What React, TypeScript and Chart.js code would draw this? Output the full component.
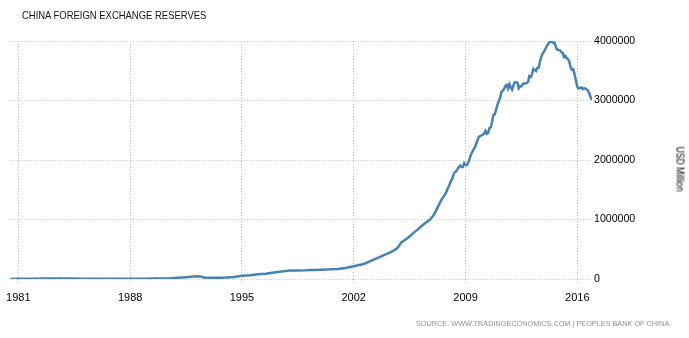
import React, { useEffect, useRef } from "react";
import { Chart, registerables } from "chart.js";

Chart.register(...registerables);

const title = "CHINA FOREIGN EXCHANGE RESERVES";
const sourceText = "SOURCE: WWW.TRADINGECONOMICS.COM | PEOPLES BANK OF CHINA";
const unitLabel = "USD Million";

const tickYears = [1981, 1988, 1995, 2002, 2009, 2016];
const yTicks = [0, 1000000, 2000000, 3000000, 4000000];

const dates = [
  "1980-07", "1981-01", "1981-07", "1982-01", "1982-07", "1983-01", "1983-07", "1984-01", "1984-07",
  "1985-01", "1985-07", "1986-01", "1986-07", "1987-01", "1987-07", "1988-01", "1988-07", "1989-01",
  "1989-07", "1990-01", "1990-07", "1991-01", "1991-07", "1992-01", "1992-04", "1992-06", "1992-09",
  "1993-01", "1993-07", "1994-01", "1994-07", "1995-01", "1995-07", "1996-01", "1996-07", "1997-01",
  "1997-07", "1998-01", "1998-07", "1999-01", "1999-07", "2000-01", "2000-07", "2001-01", "2001-07",
  "2002-01", "2002-04", "2002-07", "2002-10", "2003-01", "2003-04", "2003-07", "2003-10",
  "2004-01", "2004-04", "2004-07", "2004-10", "2005-01", "2005-04", "2005-07", "2005-10",
  "2006-01", "2006-04", "2006-07", "2006-10", "2007-01", "2007-04", "2007-07", "2007-10",
  "2008-01", "2008-02", "2008-03", "2008-04", "2008-05", "2008-06", "2008-07", "2008-08", "2008-09", "2008-10", "2008-11", "2008-12",
  "2009-01", "2009-02", "2009-03", "2009-04", "2009-05", "2009-06", "2009-07", "2009-08", "2009-09", "2009-10", "2009-11", "2009-12",
  "2010-01", "2010-02", "2010-03", "2010-04", "2010-05", "2010-06", "2010-07", "2010-08", "2010-09", "2010-10", "2010-11", "2010-12",
  "2011-01", "2011-02", "2011-03", "2011-04", "2011-05", "2011-06", "2011-07", "2011-08", "2011-09", "2011-10", "2011-11", "2011-12",
  "2012-01", "2012-02", "2012-03", "2012-04", "2012-05", "2012-06", "2012-07", "2012-08", "2012-09", "2012-10", "2012-11", "2012-12",
  "2013-01", "2013-02", "2013-03", "2013-04", "2013-05", "2013-06", "2013-07", "2013-08", "2013-09", "2013-10", "2013-11", "2013-12",
  "2014-01", "2014-02", "2014-03", "2014-04", "2014-05", "2014-06", "2014-07", "2014-08", "2014-09", "2014-10", "2014-11", "2014-12",
  "2015-01", "2015-02", "2015-03", "2015-04", "2015-05", "2015-06", "2015-07", "2015-08", "2015-09", "2015-10", "2015-11", "2015-12",
  "2016-01", "2016-02", "2016-03", "2016-04", "2016-05", "2016-06", "2016-07", "2016-08", "2016-09", "2016-10", "2016-11", "2016-12",
];

const reserves = [
  2000, 2700, 4000, 5500, 7000, 8500, 9000, 8600, 8200,
  6000, 3500, 2600, 2300, 2500, 3000, 3300, 4000, 5000,
  6500, 9000, 14000, 22000, 30000, 40000, 45000, 43000, 22000,
  19000, 20000, 24000, 35000, 55000, 65000, 78000, 90000, 108000,
  125000, 142000, 143000, 146000, 152000, 157000, 162000, 170000, 185000,
  215000, 230000, 245000, 265000, 295000, 325000, 355000, 385000,
  415000, 445000, 475000, 525000, 620000, 665000, 715000, 775000,
  830000, 890000, 945000, 990000, 1070000, 1200000, 1335000, 1435000,
  1589800, 1647100, 1682200, 1756700, 1797000, 1808800, 1845200, 1884200, 1905600, 1879700, 1884700, 1946000,
  1913500, 1912100, 1953700, 2008900, 2089500, 2131600, 2174600, 2210800, 2272600, 2327300, 2388800, 2399200,
  2415200, 2424600, 2447100, 2490500, 2439500, 2454300, 2538600, 2547800, 2648300, 2760900, 2767800, 2847300,
  2931700, 2991400, 3044700, 3145200, 3166200, 3197500, 3245300, 3262500, 3201700, 3273800, 3220800, 3181100,
  3253700, 3309700, 3305000, 3298900, 3206100, 3240000, 3239800, 3272900, 3285100, 3287400, 3297900, 3311600,
  3410000, 3395400, 3442600, 3534500, 3514800, 3496700, 3547800, 3553000, 3662700, 3736600, 3789500, 3821300,
  3866600, 3913700, 3948100, 3978800, 3984200, 3993200, 3966300, 3968800, 3887700, 3852900, 3847300, 3843000,
  3813400, 3801500, 3730000, 3748100, 3711100, 3693800, 3651300, 3557400, 3514100, 3525500, 3438400, 3330400,
  3230900, 3202300, 3212600, 3219700, 3191700, 3205200, 3201100, 3185200, 3166400, 3120700, 3051600, 3010500,
];

const toYear = (d: string) => {
  const [y, m] = d.split("-").map(Number);
  return y + (m - 1) / 12;
};

const FONT = "'Liberation Sans', Arial, sans-serif";

export default function App() {
  const ref = useRef<HTMLCanvasElement>(null);

  useEffect(() => {
    if (!ref.current) return;
    const points = dates.map((d, i) => ({ x: toYear(d), y: reserves[i] }));
    const chart = new Chart(ref.current, {
      type: "line",
      data: {
        datasets: [
          {
            data: points,
            borderColor: "#4682b4",
            borderWidth: 2.5,
            pointRadius: 0,
            tension: 0,
            fill: false,
          },
        ],
      },
      options: {
        animation: false,
        responsive: false,
        maintainAspectRatio: false,
        layout: { padding: { left: 7, right: 37, top: 41, bottom: 29 } },
        plugins: { legend: { display: false }, tooltip: { enabled: false }, title: { display: false } },
        scales: {
          x: {
            type: "linear",
            min: 1980.46,
            max: 2016.92,
            afterBuildTicks: (scale: any) => {
              scale.ticks = tickYears.map((v) => ({ value: v }));
            },
            afterFit: (scale: any) => {
              scale.height = 30;
            },
            grid: {
              color: "#bdbdbd",
              lineWidth: 1,
              tickLength: 6,
              drawTicks: true,
              tickBorderDash: [1, 2],
            },
            border: { display: false, dash: [1, 2] },
            ticks: {
              color: "#000",
              font: { family: FONT, size: 11 },
              padding: 6,
              maxRotation: 0,
              autoSkip: false,
              callback: (v: any) => String(v),
            },
          },
          y: {
            type: "linear",
            position: "right",
            min: 0,
            max: 4000000,
            afterBuildTicks: (scale: any) => {
              scale.ticks = yTicks.map((v) => ({ value: v }));
            },
            afterFit: (scale: any) => {
              scale.width = 60;
            },
            grid: {
              color: "#bdbdbd",
              lineWidth: 1,
              drawTicks: false,
            },
            border: { display: false, dash: [1, 2] },
            ticks: {
              color: "#000",
              font: { family: FONT, size: 10.6 },
              padding: 2,
              callback: (v: any) => String(v),
            },
          },
        },
      } as any,
    });
    return () => chart.destroy();
  }, []);

  return (
    <div style={{ position: "absolute", left: 0, top: 0, width: 689, height: 338, background: "#fff", overflow: "hidden" }}>
      <canvas ref={ref} width={689} height={338} style={{ position: "absolute", left: 0, top: 0 }} />
      <div
        style={{
          position: "absolute",
          left: 22,
          top: 9,
          fontFamily: FONT,
          fontSize: 11,
          color: "#111122",
          whiteSpace: "nowrap",
          transform: "scaleX(0.86)",
          transformOrigin: "0 0",
        }}
      >
        {title}
      </div>
      <div
        style={{
          position: "absolute",
          left: 416,
          top: 319,
          fontFamily: FONT,
          fontSize: 7.3,
          color: "#8a8f99",
          whiteSpace: "nowrap",
        }}
      >
        {sourceText}
      </div>
      <div
        style={{
          position: "absolute",
          left: 680,
          top: 169,
          transform: "translate(-50%, -50%) rotate(90deg) scaleX(0.86)",
          fontFamily: FONT,
          fontSize: 10,
          color: "#000",
          whiteSpace: "nowrap",
        }}
      >
        {unitLabel}
      </div>
    </div>
  );
}
